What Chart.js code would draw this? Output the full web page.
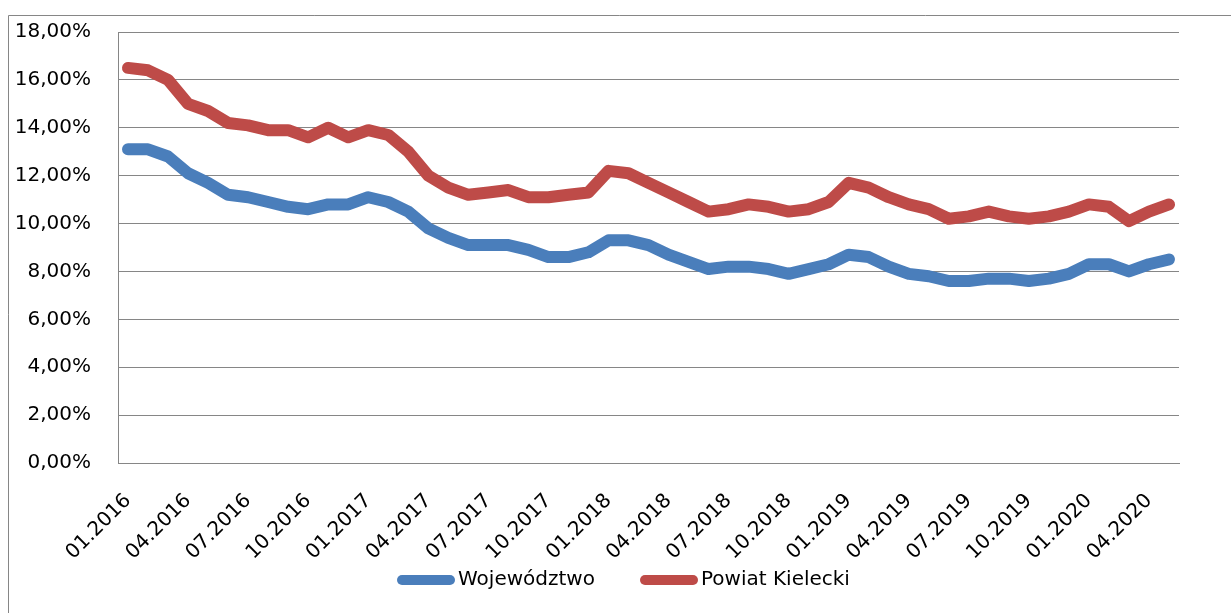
<!DOCTYPE html>
<html>
<head>
<meta charset="utf-8">
<script src="https://cdn.jsdelivr.net/npm/chart.js@4"></script>
<style>
  html, body { margin: 0; padding: 0; background: #fff; }
  #wrap { position: relative; width: 1231px; height: 613px; }
  canvas { display: block; }
</style>
</head>
<body>
<div id="wrap"><canvas id="c" width="1231" height="613"></canvas></div>
<script>
const categories = [
  "01.2016","02.2016","03.2016","04.2016","05.2016","06.2016","07.2016","08.2016","09.2016","10.2016","11.2016","12.2016",
  "01.2017","02.2017","03.2017","04.2017","05.2017","06.2017","07.2017","08.2017","09.2017","10.2017","11.2017","12.2017",
  "01.2018","02.2018","03.2018","04.2018","05.2018","06.2018","07.2018","08.2018","09.2018","10.2018","11.2018","12.2018",
  "01.2019","02.2019","03.2019","04.2019","05.2019","06.2019","07.2019","08.2019","09.2019","10.2019","11.2019","12.2019",
  "01.2020","02.2020","03.2020","04.2020","05.2020"
];
const shownTickLabels = [
  "01.2016","04.2016","07.2016","10.2016","01.2017","04.2017","07.2017","10.2017","01.2018","04.2018",
  "07.2018","10.2018","01.2019","04.2019","07.2019","10.2019","01.2020","04.2020"
];
const wojewodztwo = [
  13.1,13.1,12.8,12.1,11.7,11.2,11.1,10.9,10.7,10.6,10.8,10.8,
  11.1,10.9,10.5,9.8,9.4,9.1,9.1,9.1,8.9,8.6,8.6,8.8,
  9.3,9.3,9.1,8.7,8.4,8.1,8.2,8.2,8.1,7.9,8.1,8.3,
  8.7,8.6,8.2,7.9,7.8,7.6,7.6,7.7,7.7,7.6,7.7,7.9,
  8.3,8.3,8.0,8.3,8.5
];
const powiatKielecki = [
  16.5,16.4,16.0,15.0,14.7,14.2,14.1,13.9,13.9,13.6,14.0,13.6,
  13.9,13.7,13.0,12.0,11.5,11.2,11.3,11.4,11.1,11.1,11.2,11.3,
  12.2,12.1,11.7,11.3,10.9,10.5,10.6,10.8,10.7,10.5,10.6,10.9,
  11.7,11.5,11.1,10.8,10.6,10.2,10.3,10.5,10.3,10.2,10.3,10.5,
  10.8,10.7,10.1,10.5,10.8
];
const seriesNames = ["Województwo", "Powiat Kielecki"];
const yTicks = [0, 2, 4, 6, 8, 10, 12, 14, 16, 18];

const BLUE = '#4A7EBB';
const RED = '#BE4B48';
const GRID = '#868686';
const FONT = "'DejaVu Sans', sans-serif";

const framePlugin = {
  id: 'frame',
  beforeDraw(chart) {
    const ctx = chart.ctx;
    ctx.save();
    ctx.strokeStyle = GRID;
    ctx.lineWidth = 1;
    ctx.beginPath();
    ctx.moveTo(8.5, 613);
    ctx.lineTo(8.5, 15.5);
    ctx.lineTo(1231, 15.5);
    ctx.stroke();
    ctx.restore();
  }
};

const legendPlugin = {
  id: 'customLegend',
  afterDraw(chart) {
    const ctx = chart.ctx;
    ctx.save();
    ctx.font = "20px " + FONT;
    ctx.textBaseline = 'middle';
    ctx.fillStyle = '#000';
    const y = 580;
    const items = [
      {x: 402, color: BLUE, text: seriesNames[0]},
      {x: 645, color: RED, text: seriesNames[1]}
    ];
    items.forEach(it => {
      ctx.strokeStyle = it.color;
      ctx.lineWidth = 10;
      ctx.lineCap = 'round';
      ctx.beginPath();
      ctx.moveTo(it.x, y);
      ctx.lineTo(it.x + 48, y);
      ctx.stroke();
      ctx.fillText(it.text, it.x + 56, y);
    });
    ctx.restore();
  }
};

new Chart(document.getElementById('c'), {
  type: 'line',
  data: {
    labels: categories,
    datasets: [
      { label: seriesNames[0], data: wojewodztwo, borderColor: BLUE, backgroundColor: BLUE,
        borderWidth: 12, pointRadius: 0, tension: 0, borderCapStyle: 'round', borderJoinStyle: 'round' },
      { label: seriesNames[1], data: powiatKielecki, borderColor: RED, backgroundColor: RED,
        borderWidth: 12, pointRadius: 0, tension: 0, borderCapStyle: 'round', borderJoinStyle: 'round' }
    ]
  },
  options: {
    responsive: false,
    animation: false,
    layout: { padding: { left: 0, top: 32, right: 52, bottom: 0 } },
    plugins: { legend: { display: false }, tooltip: { enabled: false } },
    scales: {
      x: {
        offset: true,
        grid: { display: false, drawTicks: false },
        border: { display: true, color: GRID, width: 1 },
        afterFit(scale) { scale.height = 150; },
        ticks: {
          autoSkip: false, maxRotation: 45, minRotation: 45,
          color: '#000', font: { family: FONT, size: 20 }, padding: 26,
          callback(v, i) { const l = categories[i]; return shownTickLabels.includes(l) ? l : ''; }
        }
      },
      y: {
        min: 0, max: 18,
        afterFit(scale) { scale.width = 118; scale.paddingTop = 0; scale.paddingBottom = 0; },
        afterBuildTicks(scale) { scale.ticks = yTicks.map(v => ({ value: v })); },
        grid: { color: GRID, lineWidth: 1, drawTicks: false },
        border: { display: true, color: GRID, width: 1 },
        ticks: {
          color: '#000', font: { family: FONT, size: 20 }, padding: 27,
          callback(v) { return v.toFixed(2).replace('.', ',') + '%'; }
        }
      }
    }
  },
  plugins: [framePlugin, legendPlugin]
});
</script>
</body>
</html>
